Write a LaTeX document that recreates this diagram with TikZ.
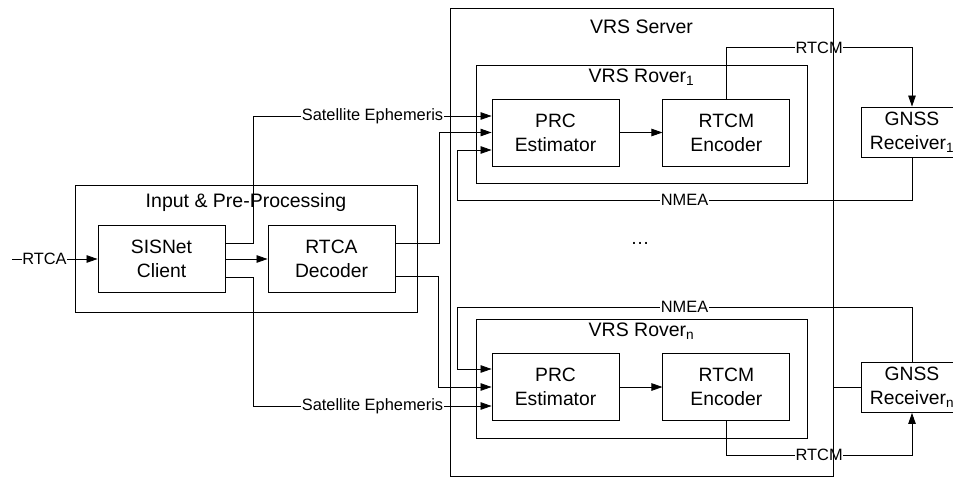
\documentclass[tikz,border=0pt]{standalone}
\usepackage{fontspec}
\setmainfont{Liberation Sans}
\usetikzlibrary{arrows.meta}
\usetikzlibrary{positioning}
\tikzset {
  block/.style = {
    draw = black,
    line width = 0.9pt,
    rectangle,
    minimum width = 127pt,
    minimum height = 67pt,
    inner sep = 0,
    align = center,
    font = \fontsize{19.3}{24}\selectfont
  },
  % receiver box, cut by the right edge
  rx/.style = {
    block,
    minimum width = 102pt,
    minimum height = 50pt
  },
  grp/.style = {
    draw = black,
    line width = 0.9pt,
    rectangle,
    inner sep = 0
  },
  ftitle/.style = {
    anchor = base,
    inner sep = 0,
    font = \fontsize{19.5}{24}\selectfont
  },
  % label sitting on a connector
  lbl/.style = {
    fill = white,
    inner sep = 0.6pt,
    font = \fontsize{16.4}{20}\selectfont
  },
  conn/.style = {
    draw = black,
    line width = 0.8pt,
    -{Triangle[length=11pt,width=7.5pt]}
  },
  wire/.style = {
    draw = black,
    line width = 0.8pt
  }
}

\begin{document}
\begin{tikzpicture}[x=1pt, y=-1pt]
    \useasboundingbox (0,0) rectangle (953,477);

    \node[block] (sisnet) at (161.5,259) {SISNet\\Client};
    \node[block] (decoder) at (331.5,259) {RTCA\\Decoder};
    \node[block] (prc1) at (555.5,132.5) {PRC\\Estimator};
    \node[block] (enc1) [right=43pt of prc1] {RTCM\\Encoder};
    \node[block] (prcn) at (555.5,387) {PRC\\Estimator};
    \node[block] (encn) [right=43pt of prcn] {RTCM\\Encoder};
    \node[rx] (rec1) at (912,132) {GNSS\\Receiver\textsubscript{1}};
    \node[rx] (recn) at (912,387.5) {GNSS\\Receiver\textsubscript{n}};
    \node[font=\fontsize{19}{24}\selectfont] (dots) at (640,243) {…};

    \coordinate (rtca) at (12,259);
    \coordinate (nmea1) at (457,200);
    \coordinate (nmean) at (457,307);

    \draw[conn] (rtca) -- node[lbl, pos=0.38] {RTCA} (sisnet);
    \draw[conn] (sisnet) -- (decoder);
    \draw[conn] ([yshift=16pt]sisnet.east) -- ++(28,0)
    |- node[lbl, pos=0.75] {Satellite Ephemeris} ([yshift=16.5pt]prc1.west);
    \draw[conn] ([yshift=-18pt]sisnet.east) -- ++(28,0)
    |- node[lbl, pos=0.75] {Satellite Ephemeris} ([yshift=-19pt]prcn.west);
    \draw[conn] ([yshift=16pt]decoder.east) -- ++(44,0) |- (prc1.west);
    \draw[conn] ([yshift=-17pt]decoder.east) -- ++(43,0) |- (prcn.west);

    \draw[conn] (prc1) -- (enc1);
    \draw[conn] (prcn) -- (encn);

    \draw[conn] (enc1.north) -- ++(0,-51)
    -| node[lbl, pos=0.25] {RTCM} (rec1.north);
    \draw[conn] (encn.south) -- ++(0,34)
    -| node[lbl, pos=0.25] {RTCM} (recn.south);
    \draw[conn] (rec1.south) |- node[lbl, pos=0.75] {NMEA} (nmea1)
    |- ([yshift=-17.5pt]prc1.west);
    \draw[conn] (recn.north) |- node[lbl, pos=0.75] {NMEA} (nmean)
    |- ([yshift=18pt]prcn.west);

    % group frames
    \node[grp, minimum width=342pt, minimum height=127pt] (input) at (246,248.5) {};
    \node[grp, minimum width=383pt, minimum height=468pt] (server) at (641.5,242) {};
    \node[grp, minimum width=331pt, minimum height=118pt] (rover1) at (641.5,124) {};
    \node[grp, minimum width=331pt, minimum height=119pt] (rovern) at (641.5,378.5) {};
    \node[ftitle] (inputtitle) at ([yshift=-23pt]input.north) {Input \& Pre-Processing};
    \node[ftitle] (servertitle) at ([yshift=-26pt]server.north) {VRS Server};
    \node[ftitle] (rover1title) at ([yshift=-18pt]rover1.north) {VRS Rover\textsubscript{1}};
    \node[ftitle] (roverntitle) at ([yshift=-18pt]rovern.north) {VRS Rover\textsubscript{n}};

    \draw[wire] (server.east |- recn.west) -- (recn.west);
\end{tikzpicture}
\end{document}
